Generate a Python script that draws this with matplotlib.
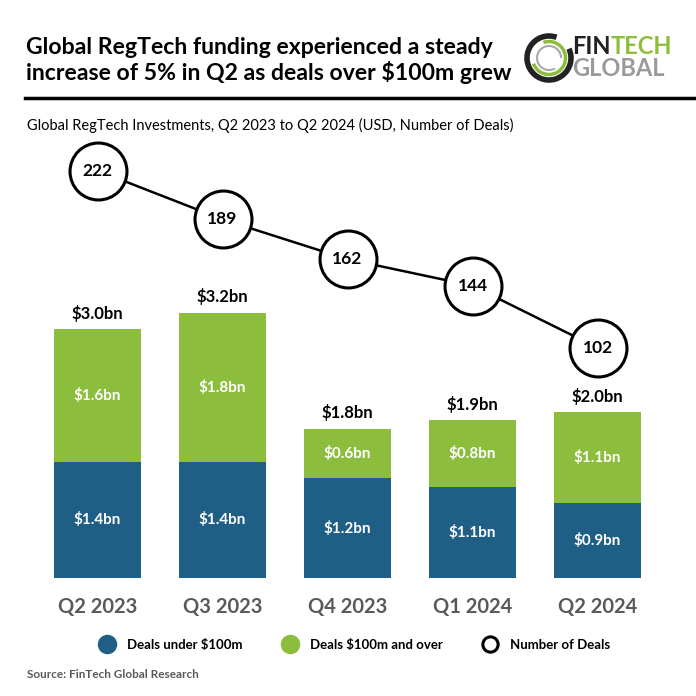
import matplotlib.pyplot as plt
from matplotlib.lines import Line2D
from matplotlib.patches import Arc

plt.rcParams['font.family'] = ['Lato', 'DejaVu Sans']

quarters = ['Q2 2023', 'Q3 2023', 'Q4 2023', 'Q1 2024', 'Q2 2024']
under_100m = [1.4, 1.4, 1.2, 1.1, 0.9]
over_100m = [1.6, 1.8, 0.6, 0.8, 1.1]
totals = [3.0, 3.2, 1.8, 1.9, 2.0]
deals = [222, 189, 162, 144, 102]

BLUE = '#1f5e85'
GREEN = '#8cbd3d'
GREY = '#595959'

W = 696
fig = plt.figure(figsize=(6.96, 6.96), dpi=100)

# title block
fig.text(26 / W, 1 - 47 / W, 'Global RegTech funding experienced a steady',
         fontsize=16.6, fontweight='bold', va='center', ha='left')
fig.text(26 / W, 1 - 73 / W, 'increase of 5% in Q2 as deals over $100m grew',
         fontsize=16.6, fontweight='bold', va='center', ha='left')
fig.add_artist(Line2D([25 / W, 1], [1 - 98 / W] * 2, color='black', lw=2.5,
                      transform=fig.transFigure))
fig.text(27 / W, 1 - 125 / W,
         'Global RegTech Investments, Q2 2023 to Q2 2024 (USD, Number of Deals)',
         fontsize=10.5, va='center', ha='left')

# logo
cx, cy = 549 / W, 1 - 58 / W
fig.add_artist(Arc((cx, cy), 44 / W, 44 / W, theta1=70, theta2=385, lw=4,
                   color='#222222', transform=fig.transFigure))
fig.add_artist(Arc((cx, cy), 33 / W, 33 / W, theta1=200, theta2=470, lw=2.5,
                   color=GREEN, transform=fig.transFigure))
fig.add_artist(Arc((cx, cy), 24 / W, 24 / W, theta1=0, theta2=300, lw=1.5,
                   color='#aaaaaa', transform=fig.transFigure))
fig.text(572 / W, 1 - 47 / W, 'FIN', fontsize=17, fontweight='bold',
         color='#222222', va='center', ha='left')
fig.text(611 / W, 1 - 47 / W, 'TECH', fontsize=17, fontweight='bold',
         color=GREEN, va='center', ha='left')
fig.text(572 / W, 1 - 68 / W, 'GLOBAL', fontsize=17, fontweight='bold',
         color='#9a9a9a', va='center', ha='left')

# main axes
ax = fig.add_axes([35 / W, (W - 578) / W, 625 / W, 428 / W])
x = range(len(quarters))
ax.bar(x, under_100m, width=0.7, color=BLUE)
ax.bar(x, over_100m, width=0.7, bottom=under_100m, color=GREEN)
ax.set_xlim(-0.5, 4.5)
ax.set_ylim(0, 5.16)
for i in x:
    ax.text(i, under_100m[i] / 2, f'${under_100m[i]:.1f}bn', color='white',
            fontsize=11, fontweight='bold', ha='center', va='center')
    ax.text(i, under_100m[i] + over_100m[i] / 2, f'${over_100m[i]:.1f}bn',
            color='white', fontsize=11, fontweight='bold', ha='center', va='center')
    ax.text(i, totals[i] + 0.19, f'${totals[i]:.1f}bn', fontsize=12,
            fontweight='bold', ha='center', va='center')
ax.set_xticks(list(x))
ax.set_xticklabels(quarters, fontsize=14.5, fontweight='bold', color=GREY)
ax.tick_params(axis='x', length=0, pad=14)
ax.set_yticks([])
for s in ax.spines.values():
    s.set_visible(False)

ax2 = ax.twinx()
ax2.plot(list(x), deals, color='black', lw=1.8, marker='o', markersize=41,
         markerfacecolor='white', markeredgecolor='black', markeredgewidth=2.2,
         clip_on=False)
for i in x:
    ax2.text(i, deals[i], str(deals[i]), fontsize=12.5, fontweight='bold',
             ha='center', va='center', clip_on=False)
ax2.set_ylim(-54, 236)
ax2.set_yticks([])
for s in ax2.spines.values():
    s.set_visible(False)

# legend
handles = [
    Line2D([], [], marker='o', ls='', markersize=13, markerfacecolor=BLUE,
           markeredgecolor=BLUE),
    Line2D([], [], marker='o', ls='', markersize=13, markerfacecolor=GREEN,
           markeredgecolor=GREEN),
    Line2D([], [], marker='o', ls='', markersize=11, markerfacecolor='white',
           markeredgecolor='black', markeredgewidth=2.2),
]
fig.legend(handles, ['Deals under $100m', 'Deals $100m and over', 'Number of Deals'],
           loc='center', bbox_to_anchor=(352 / W, 1 - 645 / W), ncol=3,
           frameon=False, prop={'weight': 'bold', 'size': 9.5},
           handletextpad=0.5, columnspacing=2.6)

fig.text(27 / W, 1 - 674 / W, 'Source: FinTech Global Research', fontsize=8.5,
         fontweight='bold', color=GREY, va='center', ha='left')

fig.savefig('out.png', dpi=100)
